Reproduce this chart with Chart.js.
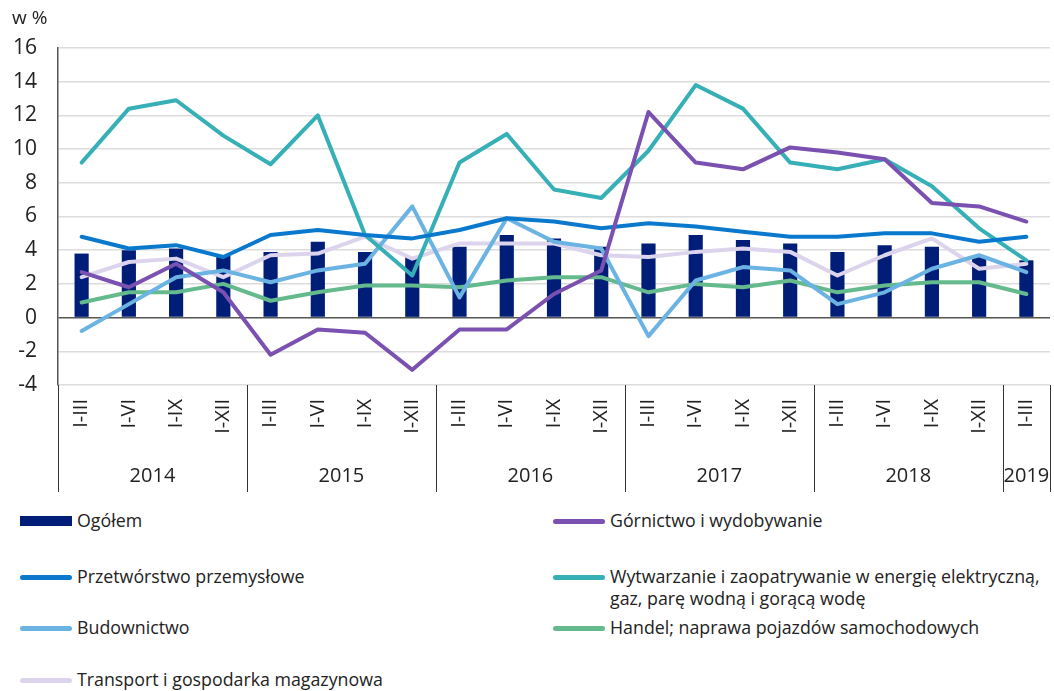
<!DOCTYPE html>
<html>
<head>
<meta charset="utf-8">
<script src="https://cdn.jsdelivr.net/npm/chart.js@4"></script>
<style>
  body { margin: 0; background: #fff; font-family: "Open Sans", sans-serif; }
  #wrap { position: relative; width: 1054px; height: 691px; }
  #chartBox { position: absolute; left: 0; top: 0; width: 1054px; height: 500px; }
  .leg { position: absolute; font-size: 17.8px; color: #222; line-height: 22px; }
  .mk { position: absolute; }
</style>
</head>
<body>
<div id="wrap">
  <div id="chartBox"><canvas id="chart"></canvas></div>
  <div id="legend"></div>
</div>
<script>
const quarters = ['I-III','I-VI','I-IX','I-XII','I-III','I-VI','I-IX','I-XII','I-III','I-VI','I-IX','I-XII',
                  'I-III','I-VI','I-IX','I-XII','I-III','I-VI','I-IX','I-XII','I-III'];
const years = ['2014','2015','2016','2017','2018','2019'];
const yearSpan = [4, 4, 4, 4, 4, 1];

const ogolem = [3.8,4.0,4.1,3.7,3.9,4.5,3.9,3.6,4.2,4.9,4.7,4.2,4.4,4.9,4.6,4.4,3.9,4.3,4.2,3.6,3.4];
const gornictwo = [2.7,1.8,3.2,1.5,-2.2,-0.7,-0.9,-3.1,-0.7,-0.7,1.4,2.8,12.2,9.2,8.8,10.1,9.8,9.4,6.8,6.6,5.7];
const przetworstwo = [4.8,4.1,4.3,3.6,4.9,5.2,4.9,4.7,5.2,5.9,5.7,5.3,5.6,5.4,5.1,4.8,4.8,5.0,5.0,4.5,4.8];
const wytwarzanie = [9.2,12.4,12.9,10.8,9.1,12.0,4.9,2.5,9.2,10.9,7.6,7.1,9.9,13.8,12.4,9.2,8.8,9.4,7.8,5.3,3.4];
const budownictwo = [-0.8,0.8,2.4,2.8,2.1,2.8,3.2,6.6,1.2,5.9,4.5,4.1,-1.1,2.2,3.0,2.8,0.8,1.5,2.9,3.7,2.7];
const handel = [0.9,1.5,1.5,2.0,1.0,1.5,1.9,1.9,1.8,2.2,2.4,2.4,1.5,2.0,1.8,2.2,1.5,1.9,2.1,2.1,1.4];
const transport = [2.4,3.3,3.5,2.4,3.7,3.8,4.8,3.5,4.4,4.4,4.4,3.7,3.6,3.9,4.1,3.9,2.5,3.7,4.7,2.9,3.2];

const FONT = '"Open Sans", sans-serif';

function lineSet(label, data, color) {
    return {
        type: 'line', label: label, data: data,
        borderColor: color, backgroundColor: color,
        borderWidth: 4, pointRadius: 0, tension: 0,
        borderJoinStyle: 'round', borderCapStyle: 'round', order: 1
    };
}

const series = [
    { type: 'bar', label: 'Ogółem', data: ogolem, backgroundColor: '#001e78', barPercentage: 0.3, categoryPercentage: 1, order: 10 },
    lineSet('Górnictwo i wydobywanie', gornictwo, '#7a50b0'),
    lineSet('Przetwórstwo przemysłowe', przetworstwo, '#0a78cc'),
    lineSet('Wytwarzanie i zaopatrywanie w energię elektryczną,\ngaz, parę wodną i gorącą wodę', wytwarzanie, '#36b0b6'),
    lineSet('Budownictwo', budownictwo, '#6bb3e2'),
    lineSet('Handel; naprawa pojazdów samochodowych', handel, '#64ba8c'),
    lineSet('Transport i gospodarka magazynowa', transport, '#dcd4ec')
];

// year labels and separators under the rotated quarter labels
const yearAxis = {
    id: 'yearAxis',
    afterDraw(chart) {
        const ctx = chart.ctx;
        const x = chart.scales.x;
        const top = chart.chartArea.bottom;
        const half = (x.getPixelForValue(1) - x.getPixelForValue(0)) / 2;
        ctx.save();
        ctx.strokeStyle = '#333';
        ctx.lineWidth = 1;
        ctx.fillStyle = '#222';
        ctx.font = '20px ' + FONT;
        ctx.textAlign = 'center';
        ctx.textBaseline = 'middle';
        let i = 0;
        const edges = [x.getPixelForValue(0) - half];
        years.forEach((y, k) => {
            const a = x.getPixelForValue(i) - half;
            const b = x.getPixelForValue(i + yearSpan[k] - 1) + half;
            edges.push(b);
            ctx.fillText(y, (a + b) / 2, 476);
            i += yearSpan[k];
        });
        edges.forEach(e => {
            ctx.beginPath();
            ctx.moveTo(Math.round(e) + 0.5, top);
            ctx.lineTo(Math.round(e) + 0.5, 492);
            ctx.stroke();
        });
        ctx.font = '19px ' + FONT;
        ctx.textAlign = 'left';
        ctx.fillText('w %', 12, 19);
        ctx.restore();
    }
};

new Chart(document.getElementById('chart'), {
    data: { labels: quarters, datasets: series },
    options: {
        responsive: true, maintainAspectRatio: false, animation: false,
        layout: { padding: { top: 48, right: 4, left: 0, bottom: 0 } },
        plugins: { legend: { display: false }, tooltip: { enabled: false } },
        scales: {
            x: {
                grid: { display: false, drawTicks: false },
                border: { display: false },
                ticks: { minRotation: 90, maxRotation: 90, color: '#222', font: { family: FONT, size: 20 }, padding: 14 },
                afterFit(s) { s.height = 115; s.paddingLeft = 0; s.paddingRight = 0; }
            },
            y: {
                min: -4, max: 16,
                ticks: { stepSize: 2, color: '#222', font: { family: FONT, size: 21 }, padding: 21 },
                grid: {
                    drawTicks: false, lineWidth: 1.5,
                    color: ctx => ctx.tick && ctx.tick.value === 0 ? '#555' : '#dcdcdc'
                },
                border: { display: true, color: '#555', width: 1.5 },
                afterFit(s) { s.width = 58; }
            }
        }
    },
    plugins: [yearAxis]
});

// legend, two columns
const legendRows = [
    [0, 521], [1, 521], [0, 577], [1, 577], [0, 628], [1, 628], [0, 680]
];
const lg = document.getElementById('legend');
series.forEach((s, k) => {
    const col = legendRows[k][0], cy = legendRows[k][1];
    const mx = col === 0 ? 20 : 553;
    const mk = document.createElement('div');
    mk.className = 'mk';
    const color = s.type === 'bar' ? s.backgroundColor : s.borderColor;
    if (s.type === 'bar') {
        mk.style.cssText = `left:${mx}px;top:${cy - 5}px;width:52px;height:10px;background:${color}`;
    } else {
        mk.style.cssText = `left:${mx}px;top:${cy - 2.5}px;width:52px;height:5px;border-radius:3px;background:${color}`;
    }
    lg.appendChild(mk);
    const t = document.createElement('div');
    t.className = 'leg';
    t.style.left = (mx + 57) + 'px';
    t.style.top = (cy - 12) + 'px';
    t.innerHTML = s.label.replace('\n', '<br>');
    lg.appendChild(t);
});
</script>
</body>
</html>
